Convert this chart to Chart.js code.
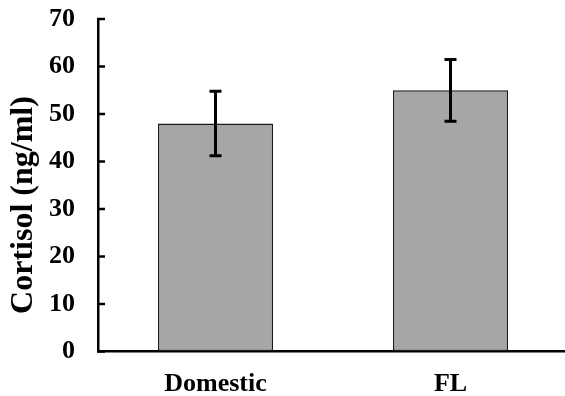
<!DOCTYPE html>
<html>
<head>
<meta charset="utf-8">
<script src="https://cdn.jsdelivr.net/npm/chart.js@4"></script>
<style>
  body { margin: 0; overflow: hidden; background: #fff; }
  #wrap { width: 570px; height: 396px; }
</style>
</head>
<body>
<div id="wrap"><canvas id="myChart" width="570" height="396"></canvas></div>
<script>
  // data
  const categories = ["Domestic", "FL"];
  const cortisolMeans = [48, 55];
  const cortisolErrors = [6.8, 6.5];
  const yMin = 0, yMax = 70, yStep = 10;
  const yTitle = "Cortisol (ng/ml)";

  const serif = '"Liberation Serif", "Times New Roman", serif';

  // small ticks pointing into the plot, like the original
  const innerTicks = {
    id: "innerTicks",
    afterDraw(chart) {
      const ctx = chart.ctx;
      const y = chart.scales.y;
      const left = chart.chartArea.left;
      ctx.save();
      ctx.strokeStyle = "#000";
      ctx.lineWidth = 2.5;
      y.ticks.forEach(t => {
        const py = y.getPixelForValue(t.value);
        ctx.beginPath();
        ctx.moveTo(left - 1, py);
        ctx.lineTo(left + 7, py);
        ctx.stroke();
      });
      ctx.restore();
    }
  };

  const errorBars = {
    id: "errorBars",
    afterDatasetsDraw(chart) {
      const ctx = chart.ctx;
      const y = chart.scales.y;
      const meta = chart.getDatasetMeta(0);
      ctx.save();
      ctx.strokeStyle = "#000";
      ctx.lineWidth = 3;
      meta.data.forEach((bar, i) => {
        const top = y.getPixelForValue(cortisolMeans[i] + cortisolErrors[i]);
        const bot = y.getPixelForValue(cortisolMeans[i] - cortisolErrors[i]);
        ctx.beginPath();
        ctx.moveTo(bar.x, top);
        ctx.lineTo(bar.x, bot);
        ctx.moveTo(bar.x - 6, top);
        ctx.lineTo(bar.x + 6, top);
        ctx.moveTo(bar.x - 6, bot);
        ctx.lineTo(bar.x + 6, bot);
        ctx.stroke();
      });
      ctx.restore();
    }
  };

  // axis title drawn a little below the plot centre, as in the figure
  const sideTitle = {
    id: "sideTitle",
    afterDraw(chart) {
      const ctx = chart.ctx;
      ctx.save();
      ctx.translate(24, 205);
      ctx.rotate(-Math.PI / 2);
      ctx.font = "bold 32px " + serif;
      ctx.fillStyle = "#000";
      ctx.textAlign = "center";
      ctx.textBaseline = "middle";
      ctx.fillText(yTitle, 0, 0);
      ctx.restore();
    }
  };

  const ctx = document.getElementById("myChart").getContext("2d");
  const myChart = new Chart(ctx, {
    type: "bar",
    data: {
      labels: categories,
      datasets: [{
        data: cortisolMeans,
        backgroundColor: "#a6a6a6",
        borderColor: "#1a1a1a",
        borderWidth: 1.5,
        borderSkipped: false,
        categoryPercentage: 1,
        barPercentage: 0.49
      }]
    },
    options: {
      responsive: false,
      devicePixelRatio: 1,
      animation: false,
      layout: { padding: { top: 19, right: 2, left: 0, bottom: 0 } },
      plugins: { legend: { display: false }, tooltip: { enabled: false } },
      scales: {
        x: {
          grid: { display: false, drawTicks: false },
          border: { display: true, color: "#000", width: 2.5 },
          ticks: {
            color: "#000",
            padding: 17,
            font: { family: serif, size: 26, weight: "bold" }
          },
          afterFit(scale) {
            scale.height = 44.5;
            scale.paddingLeft = 0;
            scale.paddingRight = 0;
          }
        },
        y: {
          min: yMin,
          max: yMax,
          grid: { drawOnChartArea: false, drawTicks: false },
          border: { display: true, color: "#000", width: 2.5 },
          ticks: {
            stepSize: yStep,
            color: "#000",
            padding: 23,
            font: { family: serif, size: 26, weight: "bold" }
          },
          afterFit(scale) {
            scale.width = 98;
            scale.paddingTop = 0;
            scale.paddingBottom = 0;
          }
        }
      }
    },
    plugins: [innerTicks, errorBars, sideTitle]
  });
</script>
</body>
</html>
